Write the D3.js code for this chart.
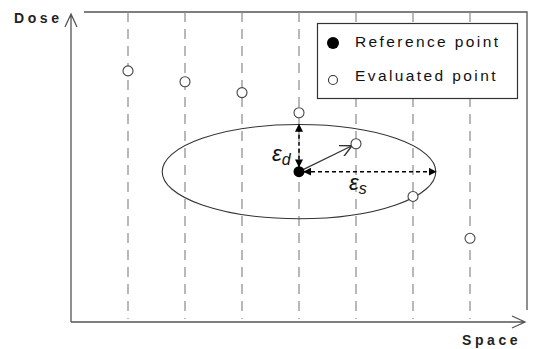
<!DOCTYPE html>
<html>
<head>
<meta charset="utf-8">
<script src="https://cdn.jsdelivr.net/npm/d3@7"></script>
<style>
  body { margin: 0; background: #fff; }
  text { font-family: Arial, "Liberation Sans", sans-serif; }
</style>
</head>
<body>
<svg id="chart" width="535" height="349"></svg>
<script>
// grid positions (space index) and dose values
var spaceSteps = [1, 2, 3, 4, 5, 6, 7];
var evaluatedDose = [8.1, 7.75, 7.4, 6.75, 5.75, 4.05, 2.7];
var referencePoint = [4, 4.85];
var toleranceSpace = 2.4;   // eps_s
var toleranceDose = 1.52;   // eps_d
var legendLabels = ["Reference point", "Evaluated point"];

var svg = d3.select("#chart");

var x = d3.scaleLinear().domain([0, 8]).range([71, 527]);
var y = d3.scaleLinear().domain([0, 10]).range([322, 12]);

var axisColor = "#555";

// markers
var defs = svg.append("defs");
defs.append("marker")
    .attr("id", "solidHead")
    .attr("viewBox", "0 0 10 10")
    .attr("refX", 9).attr("refY", 5)
    .attr("markerWidth", 8).attr("markerHeight", 8)
    .attr("markerUnits", "userSpaceOnUse")
    .attr("orient", "auto-start-reverse")
    .append("path").attr("d", "M0,0 L10,5 L0,10 Z").attr("fill", "#000");
defs.append("marker")
    .attr("id", "openHead")
    .attr("viewBox", "0 0 10 10")
    .attr("refX", 10).attr("refY", 5)
    .attr("markerWidth", 12).attr("markerHeight", 12)
    .attr("markerUnits", "userSpaceOnUse")
    .attr("orient", "auto")
    .append("path").attr("d", "M0,0 L10,5 L0,10").attr("fill", "none")
    .attr("stroke", "#333").attr("stroke-width", 1.2);

// outer frame (top + right)
svg.append("path")
    .attr("d", "M" + (x(0) + 13) + "," + y(10) + " H" + x(8) + " V" + (y(0) - 12))
    .attr("fill", "none").attr("stroke", axisColor).attr("stroke-width", 1.3);

// dashed grid lines
svg.selectAll(".grid")
    .data(spaceSteps)
    .enter()
    .append("line")
    .classed("grid", true)
    .attr("x1", function (d) { return x(d); })
    .attr("x2", function (d) { return x(d); })
    .attr("y1", y(10))
    .attr("y2", y(0) - 3)
    .attr("stroke", "#8a8a8a")
    .attr("stroke-width", 1.2)
    .attr("stroke-dasharray", "10,7");

// axes with open arrow heads
svg.append("path")
    .attr("d", "M" + x(0) + "," + y(0) + " V14 M" + (x(0) - 6) + ",27 L" + x(0) + ",14 L" + (x(0) + 6) + ",27")
    .attr("fill", "none").attr("stroke", axisColor).attr("stroke-width", 1.3);
svg.append("path")
    .attr("d", "M" + x(0) + "," + y(0) + " H525 M512," + (y(0) - 6) + " L525," + y(0) + " L512," + (y(0) + 6))
    .attr("fill", "none").attr("stroke", axisColor).attr("stroke-width", 1.3);

svg.append("text").text("Dose")
    .attr("x", 14).attr("y", 23)
    .attr("font-size", 14).attr("font-weight", "bold")
    .attr("letter-spacing", 3.6).attr("fill", "#222");
svg.append("text").text("Space")
    .attr("x", 462).attr("y", 345)
    .attr("font-size", 14).attr("font-weight", "bold")
    .attr("letter-spacing", 3.6).attr("fill", "#222");

// acceptance ellipse
svg.append("ellipse")
    .attr("cx", x(referencePoint[0]))
    .attr("cy", y(referencePoint[1]))
    .attr("rx", x(toleranceSpace) - x(0))
    .attr("ry", y(0) - y(toleranceDose))
    .attr("fill", "none").attr("stroke", "#333").attr("stroke-width", 1.1);

// eps_d arrow
svg.append("line")
    .attr("x1", x(referencePoint[0])).attr("y1", y(referencePoint[1]) - 5)
    .attr("x2", x(referencePoint[0])).attr("y2", y(referencePoint[1] + toleranceDose))
    .attr("stroke", "#000").attr("stroke-width", 1.5)
    .attr("stroke-dasharray", "4,3")
    .attr("marker-start", "url(#solidHead)")
    .attr("marker-end", "url(#solidHead)");

// eps_s arrow
svg.append("line")
    .attr("x1", x(referencePoint[0]) + 5).attr("y1", y(referencePoint[1]))
    .attr("x2", x(referencePoint[0] + toleranceSpace)).attr("y2", y(referencePoint[1]))
    .attr("stroke", "#000").attr("stroke-width", 1.5)
    .attr("stroke-dasharray", "4,3")
    .attr("marker-start", "url(#solidHead)")
    .attr("marker-end", "url(#solidHead)");

// arrow from reference point towards the evaluated point
svg.append("line")
    .attr("x1", x(referencePoint[0])).attr("y1", y(referencePoint[1]))
    .attr("x2", x(spaceSteps[4]) - 4).attr("y2", y(evaluatedDose[4]) + 2)
    .attr("stroke", "#333").attr("stroke-width", 1.2)
    .attr("marker-end", "url(#openHead)");

// evaluated points
svg.selectAll(".evalpt")
    .data(evaluatedDose)
    .enter()
    .append("circle")
    .classed("evalpt", true)
    .attr("cx", function (d, i) { return x(spaceSteps[i]); })
    .attr("cy", function (d) { return y(d); })
    .attr("r", 5)
    .attr("fill", "#fff").attr("stroke", "#444").attr("stroke-width", 1.1);

// reference point
svg.append("circle")
    .attr("cx", x(referencePoint[0])).attr("cy", y(referencePoint[1]))
    .attr("r", 5.5).attr("fill", "#000");

// labels
svg.append("text")
    .attr("x", 272).attr("y", 161)
    .attr("font-family", "'DejaVu Serif', serif").attr("font-style", "italic")
    .attr("font-size", 22).attr("fill", "#111")
    .text("ε")
    .append("tspan").attr("font-size", 16).attr("dy", 4).text("d");
svg.append("text")
    .attr("x", 349).attr("y", 190)
    .attr("font-family", "'DejaVu Serif', serif").attr("font-style", "italic")
    .attr("font-size", 22).attr("fill", "#111")
    .text("ε")
    .append("tspan").attr("font-size", 16).attr("dy", 4).text("s");

// legend
var legend = svg.append("g");
legend.append("rect")
    .attr("x", 317.5).attr("y", 23.5).attr("width", 200).attr("height", 75)
    .attr("fill", "#fff").attr("stroke", "#333").attr("stroke-width", 1.2);
legend.append("circle").attr("cx", 333).attr("cy", 43).attr("r", 6).attr("fill", "#000");
legend.append("circle").attr("cx", 333).attr("cy", 80).attr("r", 4.5)
    .attr("fill", "#fff").attr("stroke", "#333").attr("stroke-width", 1.1);
legend.selectAll(".legtext")
    .data(legendLabels)
    .enter()
    .append("text")
    .classed("legtext", true)
    .attr("x", 355)
    .attr("y", function (d, i) { return 47 + i * 34; })
    .attr("font-size", 15.5)
    .attr("letter-spacing", 2.4)
    .attr("fill", "#111")
    .text(function (d) { return d; });
</script>
</body>
</html>
